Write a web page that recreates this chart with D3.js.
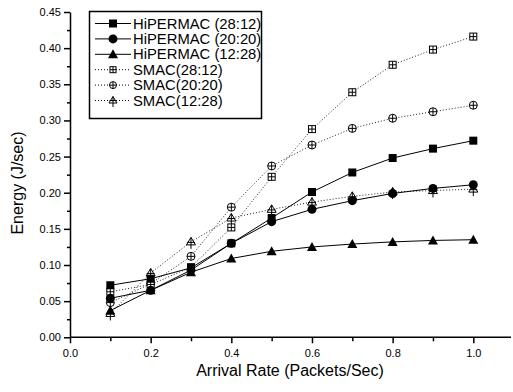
<!DOCTYPE html>
<html>
<head>
<meta charset="utf-8">
<script src="https://cdn.jsdelivr.net/npm/d3@7"></script>
<style>
  body { margin: 0; background: #fff; }
  svg { font-family: "Liberation Sans", Arial, sans-serif; display: block; }
</style>
</head>
<body>
<div id="chart"></div>
<script>
const rates = [0.1, 0.2, 0.3, 0.4, 0.5, 0.6, 0.7, 0.8, 0.9, 1.0];
const hiper2812 = [0.072, 0.081, 0.096, 0.130, 0.165, 0.201, 0.228, 0.248, 0.261, 0.272];
const hiper2020 = [0.054, 0.065, 0.093, 0.130, 0.160, 0.177, 0.189, 0.199, 0.206, 0.211];
const hiper1228 = [0.037, 0.065, 0.090, 0.109, 0.119, 0.125, 0.129, 0.132, 0.134, 0.135];
const smac2812 = [0.063, 0.073, 0.097, 0.152, 0.222, 0.288, 0.339, 0.377, 0.398, 0.416];
const smac2020 = [0.048, 0.074, 0.112, 0.180, 0.237, 0.266, 0.289, 0.303, 0.312, 0.321];
const smac1228 = [0.033, 0.089, 0.132, 0.165, 0.177, 0.187, 0.195, 0.201, 0.203, 0.205];
const seriesNames = ["HiPERMAC (28:12)", "HiPERMAC (20:20)", "HiPERMAC (12:28)", "SMAC(28:12)", "SMAC(20:20)", "SMAC(12:28)"];
const xTicks = [0.0, 0.2, 0.4, 0.6, 0.8, 1.0];
const yTicks = [0.00, 0.05, 0.10, 0.15, 0.20, 0.25, 0.30, 0.35, 0.40, 0.45];

const width = 513, height = 392;
const svg = d3.select("#chart").append("svg")
  .attr("width", width).attr("height", height);

const x = d3.scaleLinear().domain([0, 1]).range([70, 473.3]);
const y = d3.scaleLinear().domain([0, 0.45]).range([337.3, 12]);

// marker shapes
function marker(g, kind, r) {
  if (kind === "square") {
    g.append("rect").attr("x", -r).attr("y", -r).attr("width", 2 * r).attr("height", 2 * r).attr("fill", "#000");
  } else if (kind === "circle") {
    g.append("circle").attr("r", r + 0.5).attr("fill", "#000");
  } else if (kind === "triangle") {
    g.append("path").attr("d", `M0,${-r - 1}L${r + 1},${r}L${-r - 1},${r}Z`).attr("fill", "#000");
  } else if (kind === "sqcross") {
    g.append("rect").attr("x", -r + 0.5).attr("y", -r + 0.5).attr("width", 2 * r - 1).attr("height", 2 * r - 1)
      .attr("fill", "#fff").attr("stroke", "#000").attr("stroke-width", 1);
    g.append("path").attr("d", `M0,${-r + 0.5}V${r - 0.5}M${-r + 0.5},0H${r - 0.5}`).attr("stroke", "#000").attr("stroke-width", 1);
  } else if (kind === "circplus") {
    g.append("circle").attr("r", r).attr("fill", "#fff").attr("stroke", "#000").attr("stroke-width", 1);
    g.append("path").attr("d", `M0,${-r}V${r}M${-r},0H${r}`).attr("stroke", "#000").attr("stroke-width", 1);
  } else if (kind === "triplus") {
    g.append("path").attr("d", `M0,${-r - 0.5}L${r + 0.5},${r - 1}L${-r - 0.5},${r - 1}Z`)
      .attr("fill", "#fff").attr("stroke", "#000").attr("stroke-width", 1);
    g.append("path").attr("d", `M0,${-r - 0.5}V${r + 3}M${-r},${r - 3.5}H${r}`).attr("stroke", "#000").attr("stroke-width", 1);
  }
}

const series = [
  { name: seriesNames[0], values: hiper2812, kind: "square", dotted: false },
  { name: seriesNames[1], values: hiper2020, kind: "circle", dotted: false },
  { name: seriesNames[2], values: hiper1228, kind: "triangle", dotted: false },
  { name: seriesNames[3], values: smac2812, kind: "sqcross", dotted: true },
  { name: seriesNames[4], values: smac2020, kind: "circplus", dotted: true },
  { name: seriesNames[5], values: smac1228, kind: "triplus", dotted: true }
];

// axes
const yAxis = svg.append("g").attr("transform", "translate(70,0)")
  .call(d3.axisLeft(y).tickValues(yTicks).tickFormat(d3.format(".2f")).tickSize(6).tickSizeOuter(0).tickPadding(3));
svg.append("g").attr("transform", "translate(70,0)")
  .call(d3.axisLeft(y).tickValues(d3.range(0.025, 0.45, 0.05)).tickFormat("").tickSize(3).tickSizeOuter(0))
  .select(".domain").remove();

const xAxis = svg.append("g").attr("transform", "translate(0,337.3)")
  .call(d3.axisBottom(x).tickValues(xTicks).tickFormat(d3.format(".1f")).tickSize(6).tickSizeOuter(0).tickPadding(6));
svg.append("g").attr("transform", "translate(0,337.3)")
  .call(d3.axisBottom(x).tickValues([0.1, 0.3, 0.5, 0.7, 0.9, 1.1]).tickFormat("").tickSize(4).tickSizeOuter(0))
  .select(".domain").remove();
xAxis.select(".domain").attr("d", `M70,0H511`);

svg.selectAll(".tick line").attr("stroke", "#000").attr("stroke-width", 1.5);
svg.selectAll(".domain").attr("stroke", "#000").attr("stroke-width", 1.5);
svg.selectAll(".tick text").attr("font-size", 11).attr("fill", "#000")
  .attr("font-family", "Liberation Sans, Arial, sans-serif");

svg.append("text").attr("x", 290).attr("y", 376)
  .attr("text-anchor", "middle").attr("font-size", 16).text("Arrival Rate (Packets/Sec)");
svg.append("text").attr("transform", "translate(23,183) rotate(-90)")
  .attr("text-anchor", "middle").attr("font-size", 16).text("Energy (J/sec)");

// lines
const line = d3.line().x(d => x(d[0])).y(d => y(d[1]));
series.slice().reverse().forEach(s => {
  const pts = rates.map((r, i) => [r, s.values[i]]);
  svg.append("path").datum(pts)
    .attr("fill", "none")
    .attr("stroke", s.dotted ? "#222" : "#000")
    .attr("stroke-width", 1)
    .attr("stroke-dasharray", s.dotted ? "1,2" : null)
    .attr("d", line);
});
series.slice().reverse().forEach(s => {
  rates.forEach((r, i) => {
    const g = svg.append("g").attr("transform", `translate(${x(r)},${y(s.values[i])})`);
    marker(g, s.kind, 4);
  });
});

// legend
const lg = svg.append("g");
lg.append("rect").attr("x", 89.5).attr("y", 11.5).attr("width", 172).attr("height", 107)
  .attr("fill", "#fff").attr("stroke", "#000").attr("stroke-width", 1.5);
series.forEach((s, i) => {
  const cy = 23.5 + i * 15.4;
  lg.append("line").attr("x1", 95).attr("x2", 131).attr("y1", cy).attr("y2", cy)
    .attr("stroke", "#000").attr("stroke-width", 1)
    .attr("stroke-dasharray", s.dotted ? "1,2" : null);
  marker(lg.append("g").attr("transform", `translate(113,${cy})`), s.kind, s.dotted ? 3.5 : 4);
  lg.append("text").attr("x", 133).attr("y", cy + 5).attr("font-size", 14.8).text(s.name);
});
</script>
</body>
</html>
